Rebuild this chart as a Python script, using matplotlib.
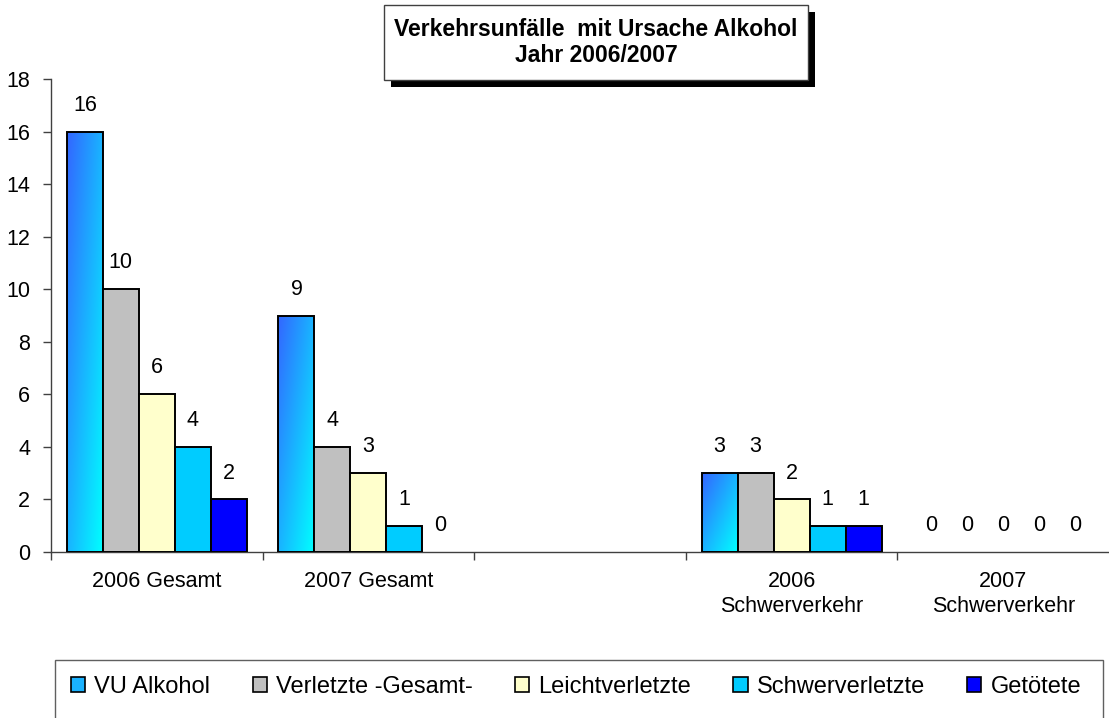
import numpy as np
import matplotlib
matplotlib.use("Agg")
import matplotlib.pyplot as plt
from matplotlib.colors import LinearSegmentedColormap
from matplotlib.patches import Rectangle, Patch

plt.rcParams['font.family'] = ['Liberation Sans', 'DejaVu Sans']

categories = ["2006 Gesamt", "2007 Gesamt", "", "2006\nSchwerverkehr", "2007\nSchwerverkehr"]
series = ["VU Alkohol", "Verletzte -Gesamt-", "Leichtverletzte", "Schwerverletzte", "Getötete"]
vu_alkohol = [16, 9, np.nan, 3, 0]
verletzte = [10, 4, np.nan, 3, 0]
leichtverletzte = [6, 3, np.nan, 2, 0]
schwerverletzte = [4, 1, np.nan, 1, 0]
getoetete = [2, 0, np.nan, 1, 0]
values = [vu_alkohol, verletzte, leichtverletzte, schwerverletzte, getoetete]
colors = [None, "#C0C0C0", "#FFFFCC", "#00CCFF", "#0000FF"]

W, H = 1109, 718
fig = plt.figure(figsize=(W / 100, H / 100), dpi=100)
ax = fig.add_axes([51 / W, 1 - 552 / H, 1 - 51 / W, (552 - 79) / H])

grad = LinearSegmentedColormap.from_list("vu", ["#3366FF", "#00FFFF"])
u, v = np.meshgrid(np.linspace(0, 1, 64), np.linspace(0, 1, 256))
diag = (u + v) / 2  # top-left -> bottom-right

bw = 0.17
x = np.arange(len(categories))
for i, (name, vals) in enumerate(zip(series, values)):
    xs = x + (i - 2) * bw
    for xi, val in zip(xs, vals):
        if np.isnan(val):
            continue
        if val > 0:
            fc = colors[i] if colors[i] else "none"
            bar = ax.bar(xi, val, bw, color=fc, edgecolor="black", linewidth=1.4, zorder=3)[0]
            if colors[i] is None:
                im = ax.imshow(diag, cmap=grad, aspect="auto", origin="upper",
                               extent=(xi - bw / 2, xi + bw / 2, 0, val), zorder=2)
                im.set_clip_path(bar)
        ax.annotate(f"{val:g}", (xi, val), xytext=(0, 19), textcoords="offset points",
                    ha="center", va="center", fontsize=15.5)

ax.set_xlim(-0.5, len(categories) - 0.5)
ax.set_ylim(0, 18)
ax.set_yticks(np.arange(0, 19, 2))
ax.set_xticks([-0.5] + list(x[:-1] + 0.5))
ax.set_xticklabels([])
ax.set_xticks(x, minor=True)
ax.set_xticklabels(categories, minor=True, fontsize=15.5, linespacing=1.2, va="top")
ax.tick_params(axis="x", which="major", length=6, width=1, color="#404040", direction="out")
ax.tick_params(axis="x", which="minor", length=0, pad=14)
ax.tick_params(axis="y", length=6, width=1, color="#404040", pad=9, labelsize=15.5)
for s in ["top", "right"]:
    ax.spines[s].set_visible(False)
for s in ["left", "bottom"]:
    ax.spines[s].set_color("#404040")
    ax.spines[s].set_linewidth(1)

# title box with drop shadow
fig.add_artist(Rectangle((391 / W, 1 - 87 / H), 424 / W, 75 / H, transform=fig.transFigure,
                         facecolor="black", edgecolor="none"))
fig.add_artist(Rectangle((384 / W, 1 - 80 / H), 424 / W, 75 / H, transform=fig.transFigure,
                         facecolor="white", edgecolor="#404040", linewidth=1))
fig.text(596 / W, 1 - 29 / H, "Verkehrsunfälle  mit Ursache Alkohol", ha="center", va="center",
         fontsize=16.5, fontweight="bold")
fig.text(596 / W, 1 - 56 / H, "Jahr 2006/2007", ha="center", va="center",
         fontsize=16.5, fontweight="bold")

# legend
fig.add_artist(Rectangle((55 / W, -0.05), (1103 - 55) / W, 1 - 660 / H + 0.05,
                         transform=fig.transFigure, facecolor="white", edgecolor="#606060", linewidth=1))
handles = [Patch(facecolor=c if c else "#1AB2FF", edgecolor="black", linewidth=1.2) for c in colors]
fig.legend(handles, series, loc="center left", bbox_to_anchor=(71 / W, 1 - 687 / H), ncol=5,
           frameon=False, fontsize=17, handlelength=0.6, handleheight=0.6, handletextpad=0.38,
           columnspacing=1.8, borderaxespad=0, borderpad=0)

fig.savefig("out.png", dpi=100, facecolor="white")
